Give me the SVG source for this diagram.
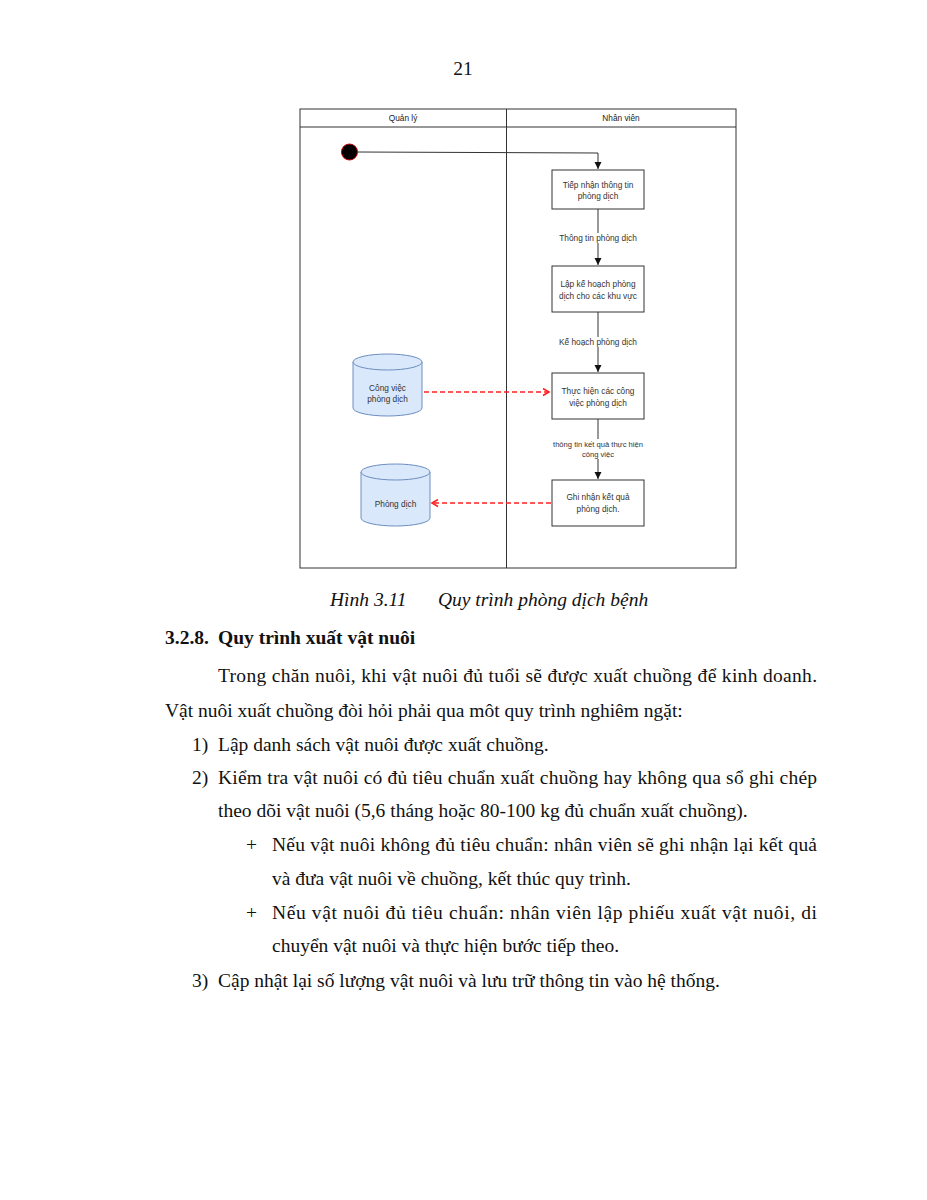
<svg xmlns="http://www.w3.org/2000/svg" width="927" height="1200" viewBox="0 0 927 1200">
<defs>
<style>
.t{font-family:"Liberation Serif","Times New Roman",serif;font-size:19.5px;fill:#111}
.i{font-style:italic}
.b{font-weight:bold}
.d{font-family:"Liberation Sans",Arial,sans-serif;font-size:8.3px;fill:#333;text-anchor:middle}
.h{font-family:"Liberation Sans",Arial,sans-serif;font-size:8.3px;fill:#222;text-anchor:middle}
.box{fill:#fff;stroke:#333;stroke-width:1}
.cyl{fill:#dae8fc;stroke:#6c8ebf;stroke-width:1}
.flow{fill:none;stroke:#333;stroke-width:1}
.dash{fill:none;stroke:#ff2020;stroke-width:1.6;stroke-dasharray:5 3}
</style>
<marker id="ah" markerWidth="8" markerHeight="8" refX="7" refY="4" orient="auto" markerUnits="userSpaceOnUse">
<path d="M0,0.5 L7,4 L0,7.5 Z" fill="#111"/>
</marker>
<marker id="rh" markerWidth="9" markerHeight="9" refX="7" refY="4.5" orient="auto" markerUnits="userSpaceOnUse">
<path d="M1,1 L7,4.5 L1,8" fill="none" stroke="#ff2020" stroke-width="1.6"/>
</marker>
</defs>
<rect width="927" height="1200" fill="#fff"/>

<text class="t" x="463" y="75" text-anchor="middle">21</text>

<g id="swimlanes">
<rect x="300" y="109" width="436" height="459" fill="none" stroke="#333" stroke-width="1"/>
<line x1="300" y1="127" x2="736" y2="127" stroke="#333" stroke-width="1"/>
<line x1="506.5" y1="109" x2="506.5" y2="568" stroke="#333" stroke-width="1"/>
<text class="h" x="403" y="121">Quản lý</text>
<text class="h" x="621" y="121">Nhân viên</text>
</g>

<g id="start">
<circle cx="349.5" cy="152" r="8" fill="#000" stroke="#c00000" stroke-width="1"/>
</g>

<g id="n1">
<rect class="box" x="552" y="170" width="92" height="39"/>
<text class="d" x="598" y="188">Tiếp nhận thông tin</text>
<text class="d" x="598" y="199">phòng dịch</text>
</g>
<g id="n2">
<rect class="box" x="552" y="266" width="92" height="46"/>
<text class="d" x="598" y="287">Lập kế hoạch phòng</text>
<text class="d" x="598" y="299">dịch cho các khu vực</text>
</g>
<g id="n3">
<rect class="box" x="552" y="373" width="92" height="46"/>
<text class="d" x="598" y="394">Thực hiện các công</text>
<text class="d" x="598" y="406">việc phòng dịch</text>
</g>
<g id="n4">
<rect class="box" x="552" y="480" width="92" height="46"/>
<text class="d" x="598" y="500">Ghi nhận kết quả</text>
<text class="d" x="598" y="512">phòng dịch.</text>
</g>
<g id="db1">
<path class="cyl" d="M353,362 A34.5,8 0 0 1 422,362 L422,408 A34.5,8 0 0 1 353,408 Z"/>
<path class="cyl" d="M353,362 A34.5,8 0 0 0 422,362" fill="none"/>
<text class="d" x="387.5" y="391">Công việc</text>
<text class="d" x="387.5" y="402">phòng dịch</text>
</g>
<g id="db2">
<path class="cyl" d="M361,472 A34.5,8 0 0 1 430,472 L430,518 A34.5,8 0 0 1 361,518 Z"/>
<path class="cyl" d="M361,472 A34.5,8 0 0 0 430,472" fill="none"/>
<text class="d" x="395.5" y="507">Phòng dịch</text>
</g>

<g id="connectors">
<path class="flow" d="M358,152 L598,153 L598,169" marker-end="url(#ah)"/>
<path class="flow" d="M598,209 L598,265" marker-end="url(#ah)"/>
<path class="flow" d="M598,312 L598,372" marker-end="url(#ah)"/>
<path class="flow" d="M598,419 L598,479" marker-end="url(#ah)"/>
<rect x="554" y="233" width="88" height="10" fill="#fff"/>
<text class="d" x="598" y="240.5">Thông tin phòng dịch</text>
<rect x="554" y="337" width="88" height="10" fill="#fff"/>
<text class="d" x="598" y="344.5">Kế hoạch phòng dịch</text>
<rect x="545" y="439" width="106" height="20" fill="#fff"/>
<text class="d" x="598" y="447" style="font-size:7.6px">thông tin kết quả thực hiện</text>
<text class="d" x="598" y="457" style="font-size:7.6px">công việc</text>
<path class="dash" d="M424,392 L549,392" marker-end="url(#rh)"/>
<path class="dash" d="M551,503 L432,503" marker-end="url(#rh)"/>
</g>

<g id="body">
<text class="t i" x="330" y="606">Hình 3.11</text>
<text class="t i" x="438" y="606">Quy trình phòng dịch bệnh</text>
<text class="t b" x="165" y="644">3.2.8.</text>
<text class="t b" x="218" y="644">Quy trình xuất vật nuôi</text>
<text class="t" x="218" y="682" textLength="599" lengthAdjust="spacing">Trong chăn nuôi, khi vật nuôi đủ tuổi sẽ được xuất chuồng để kinh doanh.</text>
<text class="t" x="165" y="717">Vật nuôi xuất chuồng đòi hỏi phải qua môt quy trình nghiêm ngặt:</text>
<text class="t" x="192" y="751">1)</text>
<text class="t" x="218" y="751">Lập danh sách vật nuôi được xuất chuồng.</text>
<text class="t" x="192" y="784">2)</text>
<text class="t" x="218" y="784" textLength="599" lengthAdjust="spacing">Kiểm tra vật nuôi có đủ tiêu chuẩn xuất chuồng hay không qua sổ ghi chép</text>
<text class="t" x="218" y="817">theo dõi vật nuôi (5,6 tháng hoặc 80-100 kg đủ chuẩn xuất chuồng).</text>
<text class="t" x="246" y="851">+</text>
<text class="t" x="272" y="851" textLength="545" lengthAdjust="spacing">Nếu vật nuôi không đủ tiêu chuẩn: nhân viên sẽ ghi nhận lại kết quả</text>
<text class="t" x="272" y="885">và đưa vật nuôi về chuồng, kết thúc quy trình.</text>
<text class="t" x="246" y="919">+</text>
<text class="t" x="272" y="919" textLength="545" lengthAdjust="spacing">Nếu vật nuôi đủ tiêu chuẩn: nhân viên lập phiếu xuất vật nuôi, di</text>
<text class="t" x="272" y="952">chuyển vật nuôi và thực hiện bước tiếp theo.</text>
<text class="t" x="192" y="987">3)</text>
<text class="t" x="218" y="987">Cập nhật lại số lượng vật nuôi và lưu trữ thông tin vào hệ thống.</text>
</g>
</svg>
